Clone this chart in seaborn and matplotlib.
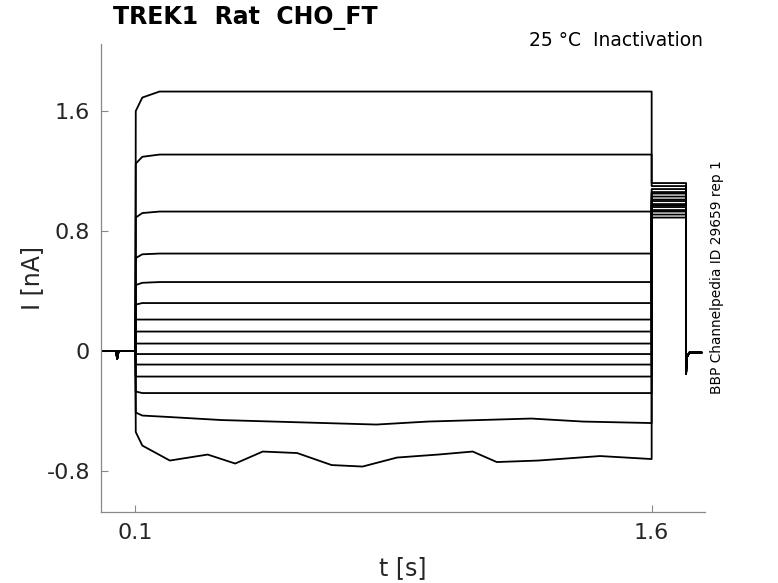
import numpy as np
import pandas as pd
import matplotlib
matplotlib.use("Agg")
import matplotlib.pyplot as plt
import seaborn as sns

# ---- data ----
# steady-state current of each sweep during the 0.1-1.6 s step (nA)
steady = [1.73, 1.31, 0.93, 0.65, 0.46, 0.32, 0.21, 0.13, 0.05, -0.02,
          -0.09, -0.17, -0.28, -0.46, -0.71]
# current right after the step onset (nA)
onset = [1.60, 1.25, 0.89, 0.62, 0.44, 0.31, 0.21, 0.13, 0.05, -0.02,
         -0.09, -0.17, -0.27, -0.41, -0.54]
# current about 20 ms after the step onset (nA)
early = [1.69, 1.295, 0.92, 0.645, 0.455, 0.32, 0.21, 0.13, 0.05, -0.02,
         -0.09, -0.17, -0.28, -0.43, -0.63]
# current during the test pulse 1.6-1.7 s (nA)
tail = [1.12, 1.10, 1.08, 1.06, 1.05, 1.03, 1.01, 1.00, 0.98, 0.97,
        0.96, 0.94, 0.93, 0.91, 0.89]
# time points of the protocol (s)
t_pre = [0.0, 0.044, 0.047, 0.051, 0.1]
i_pre = [0.0, 0.0, -0.05, 0.0, 0.0]
t_onset = 0.101
t_early = 0.12
t_settle = 0.17
t_step_end = 1.6
t_test_end = 1.7
t_post = [1.7, 1.702, 1.71, 1.745]
i_post = [-0.15, -0.04, -0.01, -0.01]
# slow drift of the largest inward sweep (time s, current nA)
drift_t = [0.2, 0.31, 0.39, 0.47, 0.57, 0.67, 0.76, 0.86, 0.98, 1.08, 1.15, 1.27, 1.45, 1.6]
drift_i = [-0.73, -0.69, -0.75, -0.67, -0.68, -0.76, -0.77, -0.71, -0.69, -0.67, -0.74, -0.73, -0.70, -0.72]
# slow drift of the second inward sweep
drift2_t = [0.2, 0.35, 0.5, 0.65, 0.8, 0.95, 1.1, 1.25, 1.4, 1.6]
drift2_i = [-0.44, -0.46, -0.47, -0.48, -0.49, -0.47, -0.46, -0.45, -0.47, -0.48]

rows = []
n = len(steady)
for k in range(n):
    ts = list(t_pre) + [t_onset, t_early]
    vs = list(i_pre) + [onset[k], early[k]]
    if k == n - 1:
        ts += drift_t
        vs += drift_i
    elif k == n - 2:
        ts += drift2_t
        vs += drift2_i
    else:
        ts += [t_settle, t_step_end]
        vs += [steady[k], steady[k]]
    ts += [t_step_end, t_test_end]
    vs += [tail[k], tail[k]]
    ts += t_post
    vs += i_post
    for i, (a, b) in enumerate(zip(ts, vs)):
        rows.append({"t": a, "I": b, "sweep": k, "order": i})
df = pd.DataFrame(rows)

sns.set_theme(style="ticks")
plt.rcParams['font.family'] = ['DejaVu Sans']

fig = plt.figure(figsize=(7.78, 5.83), dpi=100)
ax = fig.add_axes([101/778, 71/583, 604/778, 468/583])

sns.lineplot(data=df, x="t", y="I", units="sweep", estimator=None, sort=False,
             color="black", linewidth=1.3, ax=ax, legend=False)

ax.set_xlim(0.0, 1.755)
ax.set_ylim(-1.073, 2.047)
ax.set_xticks([0.1, 1.6])
ax.set_xticklabels(["0.1", "1.6"])
ax.set_yticks([-0.8, 0, 0.8, 1.6])
ax.set_yticklabels(["-0.8", "0", "0.8", "1.6"])
ax.tick_params(direction="in", length=5, width=0.8, labelsize=16, colors="#888888",
               labelcolor="#262626", pad=8)
for s in ["top", "right"]:
    ax.spines[s].set_visible(False)
for s in ["left", "bottom"]:
    ax.spines[s].set_color("#888888")
    ax.spines[s].set_linewidth(0.9)

ax.set_xlabel("t [s]", fontsize=17, color="#262626", labelpad=9)
ax.set_ylabel("I [nA]", fontsize=17, color="#262626", labelpad=2)

fig.text(113/778, 1 - 18/583, "TREK1  Rat  CHO_FT", fontsize=17, fontweight="bold",
         ha="left", va="center", color="black")
fig.text(703/778, 1 - 41/583, "25 °C  Inactivation", fontsize=13.5,
         ha="right", va="center", color="black")
fig.text(717/778, 1 - 277/583, "BBP Channelpedia ID 29659 rep 1", fontsize=9.9,
         rotation=90, ha="center", va="center", color="black")

fig.savefig("out.png", dpi=100)
